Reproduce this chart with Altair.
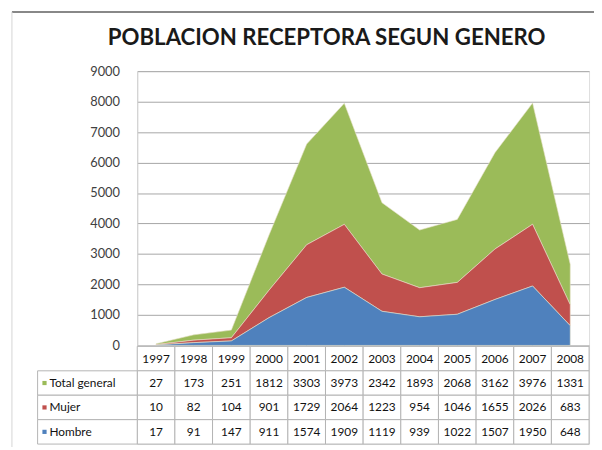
import altair as alt
import pandas as pd

years = ["1997", "1998", "1999", "2000", "2001", "2002", "2003", "2004", "2005", "2006", "2007", "2008"]
hombre = [17, 91, 147, 911, 1574, 1909, 1119, 939, 1022, 1507, 1950, 648]
mujer = [10, 82, 104, 901, 1729, 2064, 1223, 954, 1046, 1655, 2026, 683]
total = [27, 173, 251, 1812, 3303, 3973, 2342, 1893, 2068, 3162, 3976, 1331]

series = ["Total general", "Mujer", "Hombre"]
colors = ["#9BBB59", "#C0504D", "#4F81BD"]
values = {"Total general": total, "Mujer": mujer, "Hombre": hombre}
stack_order = {"Hombre": 0, "Mujer": 1, "Total general": 2}
title_text = "POBLACION RECEPTORA SEGUN GENERO"

rows = []
for s in series:
    for y, v in zip(years, values[s]):
        rows.append({"year": y, "serie": s, "value": v, "ord": stack_order[s]})
df = pd.DataFrame(rows)

header = pd.DataFrame({"year": years, "row": ["header"] * len(years)})
cells = pd.DataFrame([{"year": y, "row": r} for r in ["header"] + series for y in years])
table_vals = df.rename(columns={"serie": "row"}).assign(serie=df["serie"])
labels = pd.DataFrame({"row": series, "serie": series})

FONT = "Lato"
NUM_FONT = "Liberation Sans Narrow, Lato"
GRID = "#a6a6a6"
CELL = "#b4b4b4"

x_enc = alt.X("year:O", scale=alt.Scale(type="band", domain=years, paddingInner=0, paddingOuter=0), axis=None)
y_tab = alt.Y("row:N", scale=alt.Scale(type="band", domain=["header"] + series, range=[279, 378],
                                        paddingInner=0, paddingOuter=0), axis=None)
color_enc = alt.Color("serie:N", scale=alt.Scale(domain=series, range=colors), legend=None)

area = alt.Chart(df).mark_area(opacity=1, stroke="#e8e0c8", strokeWidth=0.6).encode(
    x=x_enc,
    y=alt.Y("value:Q", stack="zero",
            scale=alt.Scale(domain=[0, 9000], range=[278, 0], nice=False, zero=True),
            axis=alt.Axis(values=list(range(0, 9001, 1000)), title=None, grid=True, gridColor=GRID,
                          domainColor="#cfcfcf", ticks=False, labelPadding=18, labelFont=FONT,
                          labelFontSize=13, labelColor="#404040", format="d")),
    color=color_enc,
    order=alt.Order("ord:Q"),
)

cell_rects = alt.Chart(cells).mark_rect(fill="white", stroke=CELL, strokeWidth=1).encode(x=x_enc, y=y_tab)
label_rects = alt.Chart(labels).mark_rect(fill="white", stroke=CELL, strokeWidth=1).encode(
    x=alt.value(-101), x2=alt.value(0), y=y_tab)
header_text = alt.Chart(header).mark_text(font=NUM_FONT, fontSize=12, color="#111").encode(
    x=x_enc, y=y_tab, text="year:N")
value_text = alt.Chart(table_vals).mark_text(font=NUM_FONT, fontSize=12, color="#111").encode(
    x=x_enc, y=y_tab, text="value:Q")
label_text = alt.Chart(labels).mark_text(font=FONT, fontSize=12, color="#111", align="left").encode(
    x=alt.value(-89), y=y_tab, text="serie:N")
label_sq = alt.Chart(labels).mark_point(shape="square", filled=True, size=18, opacity=1).encode(
    x=alt.value(-94), y=y_tab, color=color_enc)

dummy = pd.DataFrame({"a": [0]})
title_mark = alt.Chart(dummy).mark_text(
    text=title_text, font=FONT, fontSize=22.5, fontWeight="bold", color="#1a1a1a",
    align="center", baseline="middle").encode(x=alt.value(192), y=alt.value(-34))
top_line = alt.Chart(dummy).mark_rule(color="#888888", strokeWidth=2).encode(
    x=alt.value(-127), x2=alt.value(463), y=alt.value(-60))
left_line = alt.Chart(dummy).mark_rule(color="#d4d4d4", strokeWidth=1).encode(
    x=alt.value(-127), y=alt.value(-60), y2=alt.value(381))

chart = alt.layer(
    area, cell_rects, label_rects, header_text, value_text, label_text, label_sq,
    title_mark, top_line, left_line
).resolve_scale(y="independent").properties(
    width=458,
    height=378,
    autosize=alt.AutoSizeParams(type="none"),
    padding={"left": 131, "top": 61, "right": 5, "bottom": 3},
).configure_view(stroke=None).configure(background="white")

chart.save("out.html", embed_options={"renderer": "svg", "actions": False})
